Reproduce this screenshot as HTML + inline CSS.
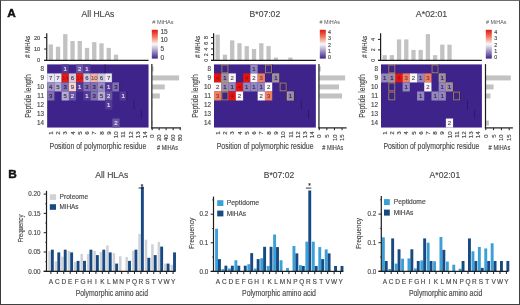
<!DOCTYPE html>
<html><head><meta charset="utf-8"><style>
html,body{margin:0;padding:0;background:#fff;}
body{width:520px;height:305px;overflow:hidden;position:relative;}
svg{position:absolute;left:0;top:0;display:block;will-change:transform;}
text{font-family:"Liberation Sans", sans-serif;}
.frame{position:absolute;left:0;top:0;width:520px;height:305px;box-sizing:border-box;border-left:1px solid #3a3a3a;border-top:1px solid #6a6a6a;border-right:1.5px solid #404040;border-bottom:1.5px solid #404040;pointer-events:none;}
</style></head><body>
<svg width="520" height="305" viewBox="0 0 520 305" font-family='"Liberation Sans", sans-serif' fill="#333">
<rect x="47.15" y="64.4" width="101.4" height="63.14" fill="rgb(62,36,138)" />
<rect x="61.64" y="64.4" width="7.26" height="9.04" fill="rgb(82,58,150)" />
<rect x="76.12" y="64.4" width="7.26" height="9.04" fill="rgb(105,84,163)" />
<rect x="83.37" y="64.4" width="7.26" height="9.04" fill="rgb(82,58,150)" />
<rect x="47.15" y="73.42" width="7.26" height="9.04" fill="rgb(236,232,242)" />
<rect x="54.39" y="73.42" width="7.26" height="9.04" fill="rgb(236,232,242)" />
<rect x="61.64" y="73.42" width="7.26" height="9.04" fill="rgb(229,27,23)" />
<rect x="68.88" y="73.42" width="7.26" height="9.04" fill="rgb(208,201,225)" />
<rect x="76.12" y="73.42" width="7.26" height="9.04" fill="rgb(229,27,23)" />
<rect x="83.37" y="73.42" width="7.26" height="9.04" fill="rgb(208,201,225)" />
<rect x="90.61" y="73.42" width="7.26" height="9.04" fill="rgb(244,176,160)" />
<rect x="97.85" y="73.42" width="7.26" height="9.04" fill="rgb(208,201,225)" />
<rect x="105.09" y="73.42" width="7.26" height="9.04" fill="rgb(236,232,242)" />
<rect x="47.15" y="82.44" width="7.26" height="9.04" fill="rgb(155,141,193)" />
<rect x="54.39" y="82.44" width="7.26" height="9.04" fill="rgb(181,171,209)" />
<rect x="61.64" y="82.44" width="7.26" height="9.04" fill="rgb(129,112,178)" />
<rect x="68.88" y="82.44" width="7.26" height="9.04" fill="rgb(247,211,204)" />
<rect x="76.12" y="82.44" width="7.26" height="9.04" fill="rgb(82,58,150)" />
<rect x="83.37" y="82.44" width="7.26" height="9.04" fill="rgb(129,112,178)" />
<rect x="90.61" y="82.44" width="7.26" height="9.04" fill="rgb(129,112,178)" />
<rect x="97.85" y="82.44" width="7.26" height="9.04" fill="rgb(155,141,193)" />
<rect x="105.09" y="82.44" width="7.26" height="9.04" fill="rgb(82,58,150)" />
<rect x="112.34" y="82.44" width="7.26" height="9.04" fill="rgb(129,112,178)" />
<rect x="47.15" y="91.46" width="7.26" height="9.04" fill="rgb(129,112,178)" />
<rect x="61.64" y="91.46" width="7.26" height="9.04" fill="rgb(181,171,209)" />
<rect x="68.88" y="91.46" width="7.26" height="9.04" fill="rgb(105,84,163)" />
<rect x="83.37" y="91.46" width="7.26" height="9.04" fill="rgb(82,58,150)" />
<rect x="90.61" y="91.46" width="7.26" height="9.04" fill="rgb(129,112,178)" />
<rect x="97.85" y="91.46" width="7.26" height="9.04" fill="rgb(181,171,209)" />
<rect x="105.09" y="91.46" width="7.26" height="9.04" fill="rgb(105,84,163)" />
<rect x="119.58" y="91.46" width="7.26" height="9.04" fill="rgb(82,58,150)" />
<rect x="105.09" y="100.48" width="7.26" height="9.04" fill="rgb(82,58,150)" />
<rect x="112.34" y="118.52" width="7.26" height="9.04" fill="rgb(105,84,163)" />
<line x1="105.09" y1="64.4" x2="105.09" y2="73.42" stroke="#281466" stroke-width="0.8" />
<line x1="112.34" y1="73.42" x2="112.34" y2="82.44" stroke="#281466" stroke-width="0.8" />
<line x1="119.58" y1="82.44" x2="119.58" y2="91.46" stroke="#281466" stroke-width="0.8" />
<line x1="126.82" y1="91.46" x2="126.82" y2="100.48" stroke="#281466" stroke-width="0.8" />
<line x1="134.07" y1="100.48" x2="134.07" y2="109.5" stroke="#281466" stroke-width="0.8" />
<line x1="141.31" y1="109.5" x2="141.31" y2="118.52" stroke="#281466" stroke-width="0.8" />
<text x="65.26" y="71" font-size="6" text-anchor="middle" fill="#ece8f6" stroke="#ece8f6" stroke-width="0.15" >1</text>
<text x="79.74" y="71" font-size="6" text-anchor="middle" fill="#ece8f6" stroke="#ece8f6" stroke-width="0.15" >2</text>
<text x="86.99" y="71" font-size="6" text-anchor="middle" fill="#ece8f6" stroke="#ece8f6" stroke-width="0.15" >1</text>
<text x="50.77" y="80.02" font-size="6" text-anchor="middle" fill="rgb(77,76,79)" stroke="rgb(77,76,79)" stroke-width="0.15" >7</text>
<text x="58.01" y="80.02" font-size="6" text-anchor="middle" fill="rgb(77,76,79)" stroke="rgb(77,76,79)" stroke-width="0.15" >7</text>
<text x="65.26" y="80.02" font-size="6" text-anchor="middle" fill="rgb(178,21,17)" stroke="rgb(178,21,17)" stroke-width="0.15" >14</text>
<text x="72.5" y="80.02" font-size="6" text-anchor="middle" fill="rgb(68,66,74)" stroke="rgb(68,66,74)" stroke-width="0.15" >6</text>
<text x="79.74" y="80.02" font-size="6" text-anchor="middle" fill="rgb(178,21,17)" stroke="rgb(178,21,17)" stroke-width="0.15" >14</text>
<text x="86.99" y="80.02" font-size="6" text-anchor="middle" fill="rgb(68,66,74)" stroke="rgb(68,66,74)" stroke-width="0.15" >6</text>
<text x="94.23" y="80.02" font-size="6" text-anchor="middle" fill="rgb(122,88,80)" stroke="rgb(122,88,80)" stroke-width="0.15" >10</text>
<text x="101.47" y="80.02" font-size="6" text-anchor="middle" fill="rgb(68,66,74)" stroke="rgb(68,66,74)" stroke-width="0.15" >6</text>
<text x="108.72" y="80.02" font-size="6" text-anchor="middle" fill="rgb(77,76,79)" stroke="rgb(77,76,79)" stroke-width="0.15" >7</text>
<text x="50.77" y="89.04" font-size="6" text-anchor="middle" fill="rgb(51,46,63)" stroke="rgb(51,46,63)" stroke-width="0.15" >4</text>
<text x="58.01" y="89.04" font-size="6" text-anchor="middle" fill="rgb(59,56,68)" stroke="rgb(59,56,68)" stroke-width="0.15" >5</text>
<text x="65.26" y="89.04" font-size="6" text-anchor="middle" fill="rgb(42,36,58)" stroke="rgb(42,36,58)" stroke-width="0.15" >3</text>
<text x="72.5" y="89.04" font-size="6" text-anchor="middle" fill="rgb(81,69,67)" stroke="rgb(81,69,67)" stroke-width="0.15" >9</text>
<text x="79.74" y="89.04" font-size="6" text-anchor="middle" fill="#ece8f6" stroke="#ece8f6" stroke-width="0.15" >1</text>
<text x="86.99" y="89.04" font-size="6" text-anchor="middle" fill="rgb(42,36,58)" stroke="rgb(42,36,58)" stroke-width="0.15" >3</text>
<text x="94.23" y="89.04" font-size="6" text-anchor="middle" fill="rgb(42,36,58)" stroke="rgb(42,36,58)" stroke-width="0.15" >3</text>
<text x="101.47" y="89.04" font-size="6" text-anchor="middle" fill="rgb(51,46,63)" stroke="rgb(51,46,63)" stroke-width="0.15" >4</text>
<text x="108.72" y="89.04" font-size="6" text-anchor="middle" fill="#ece8f6" stroke="#ece8f6" stroke-width="0.15" >1</text>
<text x="115.96" y="89.04" font-size="6" text-anchor="middle" fill="rgb(42,36,58)" stroke="rgb(42,36,58)" stroke-width="0.15" >3</text>
<text x="50.77" y="98.06" font-size="6" text-anchor="middle" fill="rgb(42,36,58)" stroke="rgb(42,36,58)" stroke-width="0.15" >3</text>
<text x="65.26" y="98.06" font-size="6" text-anchor="middle" fill="rgb(59,56,68)" stroke="rgb(59,56,68)" stroke-width="0.15" >5</text>
<text x="72.5" y="98.06" font-size="6" text-anchor="middle" fill="#ece8f6" stroke="#ece8f6" stroke-width="0.15" >2</text>
<text x="86.99" y="98.06" font-size="6" text-anchor="middle" fill="#ece8f6" stroke="#ece8f6" stroke-width="0.15" >1</text>
<text x="94.23" y="98.06" font-size="6" text-anchor="middle" fill="rgb(42,36,58)" stroke="rgb(42,36,58)" stroke-width="0.15" >3</text>
<text x="101.47" y="98.06" font-size="6" text-anchor="middle" fill="rgb(59,56,68)" stroke="rgb(59,56,68)" stroke-width="0.15" >5</text>
<text x="108.72" y="98.06" font-size="6" text-anchor="middle" fill="#ece8f6" stroke="#ece8f6" stroke-width="0.15" >2</text>
<text x="123.2" y="98.06" font-size="6" text-anchor="middle" fill="#ece8f6" stroke="#ece8f6" stroke-width="0.15" >1</text>
<text x="108.72" y="107.08" font-size="6" text-anchor="middle" fill="#ece8f6" stroke="#ece8f6" stroke-width="0.15" >1</text>
<text x="115.96" y="125.12" font-size="6" text-anchor="middle" fill="#ece8f6" stroke="#ece8f6" stroke-width="0.15" >2</text>
<text x="43.9" y="70.8" font-size="6.3" text-anchor="end" fill="#484848" stroke="#484848" stroke-width="0.15" >8</text>
<text x="43.9" y="79.82" font-size="6.3" text-anchor="end" fill="#484848" stroke="#484848" stroke-width="0.15" >9</text>
<text x="43.9" y="88.84" font-size="6.3" text-anchor="end" fill="#484848" stroke="#484848" stroke-width="0.15" >10</text>
<text x="43.9" y="97.86" font-size="6.3" text-anchor="end" fill="#484848" stroke="#484848" stroke-width="0.15" >11</text>
<text x="43.9" y="106.88" font-size="6.3" text-anchor="end" fill="#484848" stroke="#484848" stroke-width="0.15" >12</text>
<text x="43.9" y="115.9" font-size="6.3" text-anchor="end" fill="#484848" stroke="#484848" stroke-width="0.15" >13</text>
<text x="43.9" y="124.92" font-size="6.3" text-anchor="end" fill="#484848" stroke="#484848" stroke-width="0.15" >14</text>
<text x="52.97" y="131.4" font-size="6.2" text-anchor="end" fill="#484848" stroke="#484848" stroke-width="0.15" transform="rotate(-90 52.97 131.4)" >1</text>
<text x="60.21" y="131.4" font-size="6.2" text-anchor="end" fill="#484848" stroke="#484848" stroke-width="0.15" transform="rotate(-90 60.21 131.4)" >2</text>
<text x="67.46" y="131.4" font-size="6.2" text-anchor="end" fill="#484848" stroke="#484848" stroke-width="0.15" transform="rotate(-90 67.46 131.4)" >3</text>
<text x="74.7" y="131.4" font-size="6.2" text-anchor="end" fill="#484848" stroke="#484848" stroke-width="0.15" transform="rotate(-90 74.7 131.4)" >4</text>
<text x="81.94" y="131.4" font-size="6.2" text-anchor="end" fill="#484848" stroke="#484848" stroke-width="0.15" transform="rotate(-90 81.94 131.4)" >5</text>
<text x="89.19" y="131.4" font-size="6.2" text-anchor="end" fill="#484848" stroke="#484848" stroke-width="0.15" transform="rotate(-90 89.19 131.4)" >6</text>
<text x="96.43" y="131.4" font-size="6.2" text-anchor="end" fill="#484848" stroke="#484848" stroke-width="0.15" transform="rotate(-90 96.43 131.4)" >7</text>
<text x="103.67" y="131.4" font-size="6.2" text-anchor="end" fill="#484848" stroke="#484848" stroke-width="0.15" transform="rotate(-90 103.67 131.4)" >8</text>
<text x="110.92" y="131.4" font-size="6.2" text-anchor="end" fill="#484848" stroke="#484848" stroke-width="0.15" transform="rotate(-90 110.92 131.4)" >9</text>
<text x="118.16" y="131.4" font-size="6.2" text-anchor="end" fill="#484848" stroke="#484848" stroke-width="0.15" transform="rotate(-90 118.16 131.4)" >10</text>
<text x="125.4" y="131.4" font-size="6.2" text-anchor="end" fill="#484848" stroke="#484848" stroke-width="0.15" transform="rotate(-90 125.4 131.4)" >11</text>
<text x="132.64" y="131.4" font-size="6.2" text-anchor="end" fill="#484848" stroke="#484848" stroke-width="0.15" transform="rotate(-90 132.64 131.4)" >12</text>
<text x="139.89" y="131.4" font-size="6.2" text-anchor="end" fill="#484848" stroke="#484848" stroke-width="0.15" transform="rotate(-90 139.89 131.4)" >13</text>
<text x="147.13" y="131.4" font-size="6.2" text-anchor="end" fill="#484848" stroke="#484848" stroke-width="0.15" transform="rotate(-90 147.13 131.4)" >14</text>
<text x="31.1" y="96" font-size="8.3" text-anchor="middle" fill="#484848" stroke="#484848" stroke-width="0.15" textLength="43.4" lengthAdjust="spacingAndGlyphs" transform="rotate(-90 31.1 96)" >Peptide length</text>
<text x="49.5" y="149" font-size="9.2" fill="#484848" stroke="#484848" stroke-width="0.15" textLength="96.8" lengthAdjust="spacingAndGlyphs" >Position of polymorphic residue</text>
<rect x="48.65" y="44.44" width="4.3" height="15.96" fill="#c2c2c2" />
<rect x="55.89" y="46.72" width="4.3" height="13.68" fill="#c2c2c2" />
<rect x="63.14" y="34.18" width="4.3" height="26.22" fill="#c2c2c2" />
<rect x="70.38" y="41.02" width="4.3" height="19.38" fill="#c2c2c2" />
<rect x="77.62" y="41.02" width="4.3" height="19.38" fill="#c2c2c2" />
<rect x="84.87" y="47.86" width="4.3" height="12.54" fill="#c2c2c2" />
<rect x="92.11" y="42.16" width="4.3" height="18.24" fill="#c2c2c2" />
<rect x="99.35" y="43.3" width="4.3" height="17.1" fill="#c2c2c2" />
<rect x="106.59" y="47.86" width="4.3" height="12.54" fill="#c2c2c2" />
<rect x="113.84" y="54.7" width="4.3" height="5.7" fill="#c2c2c2" />
<line x1="46.75" y1="33.2" x2="46.75" y2="61" stroke="#1e1e1e" stroke-width="1.2" />
<line x1="44.15" y1="60.4" x2="148.55" y2="60.4" stroke="#1e1e1e" stroke-width="1.2" />
<line x1="44.15" y1="60.4" x2="46.85" y2="60.4" stroke="#1e1e1e" stroke-width="1.0" />
<text x="40.25" y="62.4" font-size="5.7" text-anchor="end" fill="#484848" stroke="#484848" stroke-width="0.15" >0</text>
<line x1="44.15" y1="49" x2="46.85" y2="49" stroke="#1e1e1e" stroke-width="1.0" />
<text x="40.25" y="51" font-size="5.7" text-anchor="end" fill="#484848" stroke="#484848" stroke-width="0.15" >10</text>
<line x1="44.15" y1="37.6" x2="46.85" y2="37.6" stroke="#1e1e1e" stroke-width="1.0" />
<text x="40.25" y="39.6" font-size="5.7" text-anchor="end" fill="#484848" stroke="#484848" stroke-width="0.15" >20</text>
<text x="30.5" y="46.8" font-size="6.5" text-anchor="middle" fill="#484848" stroke="#484848" stroke-width="0.15" textLength="22" lengthAdjust="spacingAndGlyphs" transform="rotate(-90 30.5 46.8)" ># MiHAs</text>
<rect x="152.15" y="66.41" width="1.4" height="5" fill="#c2c2c2" />
<rect x="152.15" y="75.43" width="26.95" height="5" fill="#c2c2c2" />
<rect x="152.15" y="84.45" width="12.6" height="5" fill="#c2c2c2" />
<rect x="152.15" y="93.47" width="7.7" height="5" fill="#c2c2c2" />
<rect x="152.15" y="102.49" width="0.35" height="5" fill="#c2c2c2" />
<rect x="152.15" y="120.53" width="0.7" height="5" fill="#c2c2c2" />
<line x1="151.85" y1="64.1" x2="151.85" y2="128.4" stroke="#1e1e1e" stroke-width="1.2" />
<line x1="151.25" y1="127.9" x2="181" y2="127.9" stroke="#1e1e1e" stroke-width="1.2" />
<line x1="152.15" y1="127.9" x2="152.15" y2="130.2" stroke="#1e1e1e" stroke-width="1.0" />
<text x="154.25" y="134.3" font-size="6" text-anchor="end" fill="#484848" stroke="#484848" stroke-width="0.15" transform="rotate(-90 154.25 134.3)" >0</text>
<line x1="159.15" y1="127.9" x2="159.15" y2="130.2" stroke="#1e1e1e" stroke-width="1.0" />
<text x="161.25" y="134.3" font-size="6" text-anchor="end" fill="#484848" stroke="#484848" stroke-width="0.15" transform="rotate(-90 161.25 134.3)" >20</text>
<line x1="166.15" y1="127.9" x2="166.15" y2="130.2" stroke="#1e1e1e" stroke-width="1.0" />
<text x="168.25" y="134.3" font-size="6" text-anchor="end" fill="#484848" stroke="#484848" stroke-width="0.15" transform="rotate(-90 168.25 134.3)" >40</text>
<line x1="173.15" y1="127.9" x2="173.15" y2="130.2" stroke="#1e1e1e" stroke-width="1.0" />
<text x="175.25" y="134.3" font-size="6" text-anchor="end" fill="#484848" stroke="#484848" stroke-width="0.15" transform="rotate(-90 175.25 134.3)" >60</text>
<line x1="180.15" y1="127.9" x2="180.15" y2="130.2" stroke="#1e1e1e" stroke-width="1.0" />
<text x="182.25" y="134.3" font-size="6" text-anchor="end" fill="#484848" stroke="#484848" stroke-width="0.15" transform="rotate(-90 182.25 134.3)" >80</text>
<text x="157" y="149.5" font-size="7.6" fill="#484848" stroke="#484848" stroke-width="0.15" textLength="21" lengthAdjust="spacingAndGlyphs" ># MiHAs</text>
<text x="81.5" y="16.8" font-size="8.8" fill="#484848" stroke="#484848" stroke-width="0.15" textLength="32.9" lengthAdjust="spacingAndGlyphs" >All HLAs</text>
<text x="152.3" y="23.8" font-size="4.9" fill="#555" textLength="21.2" lengthAdjust="spacingAndGlyphs" ># MiHAs</text>
<defs><linearGradient id="g47" x1="0" y1="1" x2="0" y2="0"><stop offset="0" stop-color="rgb(62,36,138)"/><stop offset="0.5" stop-color="rgb(250,248,250)"/><stop offset="0.75" stop-color="rgb(240,126,98)"/><stop offset="1" stop-color="rgb(228,18,16)"/></linearGradient></defs>
<rect x="151.8" y="29.8" width="6" height="28.8" fill="url(#g47)" />
<text x="160.5" y="33.6" font-size="6.5" fill="#484848" stroke="#484848" stroke-width="0.15" >15</text>
<text x="160.5" y="42.2" font-size="6.5" fill="#484848" stroke="#484848" stroke-width="0.15" >10</text>
<text x="160.5" y="50.9" font-size="6.5" fill="#484848" stroke="#484848" stroke-width="0.15" >5</text>
<text x="160.5" y="59.5" font-size="6.5" fill="#484848" stroke="#484848" stroke-width="0.15" >0</text>
<rect x="214" y="64.4" width="101.85" height="63.14" fill="rgb(62,36,138)" />
<rect x="250.38" y="64.4" width="7.29" height="9.04" fill="rgb(148,134,190)" />
<rect x="214" y="73.42" width="7.29" height="9.04" fill="rgb(228,18,16)" />
<rect x="221.28" y="73.42" width="7.29" height="9.04" fill="rgb(148,134,190)" />
<rect x="228.55" y="73.42" width="7.29" height="9.04" fill="rgb(250,248,250)" />
<rect x="243.1" y="73.42" width="7.29" height="9.04" fill="rgb(228,18,16)" />
<rect x="250.38" y="73.42" width="7.29" height="9.04" fill="rgb(250,248,250)" />
<rect x="257.65" y="73.42" width="7.29" height="9.04" fill="rgb(240,126,98)" />
<rect x="272.2" y="73.42" width="7.29" height="9.04" fill="rgb(148,134,190)" />
<rect x="214" y="82.44" width="7.29" height="9.04" fill="rgb(250,248,250)" />
<rect x="221.28" y="82.44" width="7.29" height="9.04" fill="rgb(148,134,190)" />
<rect x="228.55" y="82.44" width="7.29" height="9.04" fill="rgb(148,134,190)" />
<rect x="235.82" y="82.44" width="7.29" height="9.04" fill="rgb(228,18,16)" />
<rect x="243.1" y="82.44" width="7.29" height="9.04" fill="rgb(148,134,190)" />
<rect x="250.38" y="82.44" width="7.29" height="9.04" fill="rgb(148,134,190)" />
<rect x="257.65" y="82.44" width="7.29" height="9.04" fill="rgb(148,134,190)" />
<rect x="264.93" y="82.44" width="7.29" height="9.04" fill="rgb(250,248,250)" />
<rect x="214" y="91.46" width="7.29" height="9.04" fill="rgb(240,126,98)" />
<rect x="228.55" y="91.46" width="7.29" height="9.04" fill="rgb(228,18,16)" />
<rect x="235.82" y="91.46" width="7.29" height="9.04" fill="rgb(250,248,250)" />
<rect x="257.65" y="91.46" width="7.29" height="9.04" fill="rgb(250,248,250)" />
<rect x="264.93" y="91.46" width="7.29" height="9.04" fill="rgb(240,126,98)" />
<rect x="286.75" y="91.46" width="7.29" height="9.04" fill="rgb(148,134,190)" />
<line x1="272.2" y1="64.4" x2="272.2" y2="73.42" stroke="#281466" stroke-width="0.8" />
<line x1="279.48" y1="73.42" x2="279.48" y2="82.44" stroke="#281466" stroke-width="0.8" />
<line x1="286.75" y1="82.44" x2="286.75" y2="91.46" stroke="#281466" stroke-width="0.8" />
<line x1="294.02" y1="91.46" x2="294.02" y2="100.48" stroke="#281466" stroke-width="0.8" />
<line x1="301.3" y1="100.48" x2="301.3" y2="109.5" stroke="#281466" stroke-width="0.8" />
<line x1="308.57" y1="109.5" x2="308.57" y2="118.52" stroke="#281466" stroke-width="0.8" />
<rect x="221.88" y="65" width="6.08" height="7.82" fill="none" stroke="#c8ab40" stroke-width="0.7" stroke-opacity="0.9"/>
<rect x="221.88" y="74.02" width="6.08" height="7.82" fill="none" stroke="#c8ab40" stroke-width="0.7" stroke-opacity="0.9"/>
<rect x="221.88" y="83.04" width="6.08" height="7.82" fill="none" stroke="#c8ab40" stroke-width="0.7" stroke-opacity="0.9"/>
<rect x="221.88" y="92.06" width="6.08" height="7.82" fill="none" stroke="#c8ab40" stroke-width="0.7" stroke-opacity="0.9"/>
<rect x="265.53" y="65" width="6.08" height="7.82" fill="none" stroke="#c8ab40" stroke-width="0.7" stroke-opacity="0.9"/>
<rect x="272.8" y="74.02" width="6.08" height="7.82" fill="none" stroke="#c8ab40" stroke-width="0.7" stroke-opacity="0.9"/>
<rect x="280.08" y="83.04" width="6.08" height="7.82" fill="none" stroke="#c8ab40" stroke-width="0.7" stroke-opacity="0.9"/>
<rect x="287.35" y="92.06" width="6.08" height="7.82" fill="none" stroke="#c8ab40" stroke-width="0.7" stroke-opacity="0.9"/>
<text x="254.01" y="71" font-size="6" text-anchor="middle" fill="rgb(48,44,62)" stroke="rgb(48,44,62)" stroke-width="0.15" >1</text>
<text x="217.64" y="80.02" font-size="6" text-anchor="middle" fill="rgb(177,14,12)" stroke="rgb(177,14,12)" stroke-width="0.15" >4</text>
<text x="224.91" y="80.02" font-size="6" text-anchor="middle" fill="rgb(48,44,62)" stroke="rgb(48,44,62)" stroke-width="0.15" >1</text>
<text x="232.19" y="80.02" font-size="6" text-anchor="middle" fill="rgb(82,81,82)" stroke="rgb(82,81,82)" stroke-width="0.15" >2</text>
<text x="246.74" y="80.02" font-size="6" text-anchor="middle" fill="rgb(177,14,12)" stroke="rgb(177,14,12)" stroke-width="0.15" >4</text>
<text x="254.01" y="80.02" font-size="6" text-anchor="middle" fill="rgb(82,81,82)" stroke="rgb(82,81,82)" stroke-width="0.15" >2</text>
<text x="261.29" y="80.02" font-size="6" text-anchor="middle" fill="rgb(120,63,49)" stroke="rgb(120,63,49)" stroke-width="0.15" >3</text>
<text x="275.84" y="80.02" font-size="6" text-anchor="middle" fill="rgb(48,44,62)" stroke="rgb(48,44,62)" stroke-width="0.15" >1</text>
<text x="217.64" y="89.04" font-size="6" text-anchor="middle" fill="rgb(82,81,82)" stroke="rgb(82,81,82)" stroke-width="0.15" >2</text>
<text x="224.91" y="89.04" font-size="6" text-anchor="middle" fill="rgb(48,44,62)" stroke="rgb(48,44,62)" stroke-width="0.15" >1</text>
<text x="232.19" y="89.04" font-size="6" text-anchor="middle" fill="rgb(48,44,62)" stroke="rgb(48,44,62)" stroke-width="0.15" >1</text>
<text x="239.46" y="89.04" font-size="6" text-anchor="middle" fill="rgb(177,14,12)" stroke="rgb(177,14,12)" stroke-width="0.15" >4</text>
<text x="246.74" y="89.04" font-size="6" text-anchor="middle" fill="rgb(48,44,62)" stroke="rgb(48,44,62)" stroke-width="0.15" >1</text>
<text x="254.01" y="89.04" font-size="6" text-anchor="middle" fill="rgb(48,44,62)" stroke="rgb(48,44,62)" stroke-width="0.15" >1</text>
<text x="261.29" y="89.04" font-size="6" text-anchor="middle" fill="rgb(48,44,62)" stroke="rgb(48,44,62)" stroke-width="0.15" >1</text>
<text x="268.56" y="89.04" font-size="6" text-anchor="middle" fill="rgb(82,81,82)" stroke="rgb(82,81,82)" stroke-width="0.15" >2</text>
<text x="217.64" y="98.06" font-size="6" text-anchor="middle" fill="rgb(120,63,49)" stroke="rgb(120,63,49)" stroke-width="0.15" >3</text>
<text x="232.19" y="98.06" font-size="6" text-anchor="middle" fill="rgb(177,14,12)" stroke="rgb(177,14,12)" stroke-width="0.15" >4</text>
<text x="239.46" y="98.06" font-size="6" text-anchor="middle" fill="rgb(82,81,82)" stroke="rgb(82,81,82)" stroke-width="0.15" >2</text>
<text x="261.29" y="98.06" font-size="6" text-anchor="middle" fill="rgb(82,81,82)" stroke="rgb(82,81,82)" stroke-width="0.15" >2</text>
<text x="268.56" y="98.06" font-size="6" text-anchor="middle" fill="rgb(120,63,49)" stroke="rgb(120,63,49)" stroke-width="0.15" >3</text>
<text x="290.39" y="98.06" font-size="6" text-anchor="middle" fill="rgb(48,44,62)" stroke="rgb(48,44,62)" stroke-width="0.15" >1</text>
<text x="210.9" y="70.8" font-size="6.3" text-anchor="end" fill="#484848" stroke="#484848" stroke-width="0.15" >8</text>
<text x="210.9" y="79.82" font-size="6.3" text-anchor="end" fill="#484848" stroke="#484848" stroke-width="0.15" >9</text>
<text x="210.9" y="88.84" font-size="6.3" text-anchor="end" fill="#484848" stroke="#484848" stroke-width="0.15" >10</text>
<text x="210.9" y="97.86" font-size="6.3" text-anchor="end" fill="#484848" stroke="#484848" stroke-width="0.15" >11</text>
<text x="210.9" y="106.88" font-size="6.3" text-anchor="end" fill="#484848" stroke="#484848" stroke-width="0.15" >12</text>
<text x="210.9" y="115.9" font-size="6.3" text-anchor="end" fill="#484848" stroke="#484848" stroke-width="0.15" >13</text>
<text x="210.9" y="124.92" font-size="6.3" text-anchor="end" fill="#484848" stroke="#484848" stroke-width="0.15" >14</text>
<text x="219.84" y="131.4" font-size="6.2" text-anchor="end" fill="#484848" stroke="#484848" stroke-width="0.15" transform="rotate(-90 219.84 131.4)" >1</text>
<text x="227.11" y="131.4" font-size="6.2" text-anchor="end" fill="#484848" stroke="#484848" stroke-width="0.15" transform="rotate(-90 227.11 131.4)" >2</text>
<text x="234.39" y="131.4" font-size="6.2" text-anchor="end" fill="#484848" stroke="#484848" stroke-width="0.15" transform="rotate(-90 234.39 131.4)" >3</text>
<text x="241.66" y="131.4" font-size="6.2" text-anchor="end" fill="#484848" stroke="#484848" stroke-width="0.15" transform="rotate(-90 241.66 131.4)" >4</text>
<text x="248.94" y="131.4" font-size="6.2" text-anchor="end" fill="#484848" stroke="#484848" stroke-width="0.15" transform="rotate(-90 248.94 131.4)" >5</text>
<text x="256.21" y="131.4" font-size="6.2" text-anchor="end" fill="#484848" stroke="#484848" stroke-width="0.15" transform="rotate(-90 256.21 131.4)" >6</text>
<text x="263.49" y="131.4" font-size="6.2" text-anchor="end" fill="#484848" stroke="#484848" stroke-width="0.15" transform="rotate(-90 263.49 131.4)" >7</text>
<text x="270.76" y="131.4" font-size="6.2" text-anchor="end" fill="#484848" stroke="#484848" stroke-width="0.15" transform="rotate(-90 270.76 131.4)" >8</text>
<text x="278.04" y="131.4" font-size="6.2" text-anchor="end" fill="#484848" stroke="#484848" stroke-width="0.15" transform="rotate(-90 278.04 131.4)" >9</text>
<text x="285.31" y="131.4" font-size="6.2" text-anchor="end" fill="#484848" stroke="#484848" stroke-width="0.15" transform="rotate(-90 285.31 131.4)" >10</text>
<text x="292.59" y="131.4" font-size="6.2" text-anchor="end" fill="#484848" stroke="#484848" stroke-width="0.15" transform="rotate(-90 292.59 131.4)" >11</text>
<text x="299.86" y="131.4" font-size="6.2" text-anchor="end" fill="#484848" stroke="#484848" stroke-width="0.15" transform="rotate(-90 299.86 131.4)" >12</text>
<text x="307.14" y="131.4" font-size="6.2" text-anchor="end" fill="#484848" stroke="#484848" stroke-width="0.15" transform="rotate(-90 307.14 131.4)" >13</text>
<text x="314.41" y="131.4" font-size="6.2" text-anchor="end" fill="#484848" stroke="#484848" stroke-width="0.15" transform="rotate(-90 314.41 131.4)" >14</text>
<text x="198.2" y="96" font-size="8.3" text-anchor="middle" fill="#484848" stroke="#484848" stroke-width="0.15" textLength="43.4" lengthAdjust="spacingAndGlyphs" transform="rotate(-90 198.2 96)" >Peptide length</text>
<text x="216.7" y="149" font-size="9.2" fill="#484848" stroke="#484848" stroke-width="0.15" textLength="96.9" lengthAdjust="spacingAndGlyphs" >Position of polymorphic residue</text>
<rect x="215.5" y="34.66" width="4.3" height="25.74" fill="#c2c2c2" />
<rect x="222.78" y="54.68" width="4.3" height="5.72" fill="#c2c2c2" />
<rect x="230.05" y="40.38" width="4.3" height="20.02" fill="#c2c2c2" />
<rect x="237.32" y="43.24" width="4.3" height="17.16" fill="#c2c2c2" />
<rect x="244.6" y="46.1" width="4.3" height="14.3" fill="#c2c2c2" />
<rect x="251.88" y="48.96" width="4.3" height="11.44" fill="#c2c2c2" />
<rect x="259.15" y="43.24" width="4.3" height="17.16" fill="#c2c2c2" />
<rect x="266.43" y="46.1" width="4.3" height="14.3" fill="#c2c2c2" />
<rect x="273.7" y="57.54" width="4.3" height="2.86" fill="#c2c2c2" />
<rect x="288.25" y="57.54" width="4.3" height="2.86" fill="#c2c2c2" />
<line x1="213.6" y1="33.2" x2="213.6" y2="61" stroke="#1e1e1e" stroke-width="1.2" />
<line x1="211" y1="60.4" x2="315.85" y2="60.4" stroke="#1e1e1e" stroke-width="1.2" />
<line x1="211" y1="60.4" x2="213.7" y2="60.4" stroke="#1e1e1e" stroke-width="1.0" />
<text x="208.1" y="60.4" font-size="5.2" text-anchor="middle" fill="#484848" stroke="#484848" stroke-width="0.15" transform="rotate(-90 208.1 60.4)" >0</text>
<line x1="211" y1="54.68" x2="213.7" y2="54.68" stroke="#1e1e1e" stroke-width="1.0" />
<text x="208.1" y="54.68" font-size="5.2" text-anchor="middle" fill="#484848" stroke="#484848" stroke-width="0.15" transform="rotate(-90 208.1 54.68)" >2</text>
<line x1="211" y1="48.96" x2="213.7" y2="48.96" stroke="#1e1e1e" stroke-width="1.0" />
<text x="208.1" y="48.96" font-size="5.2" text-anchor="middle" fill="#484848" stroke="#484848" stroke-width="0.15" transform="rotate(-90 208.1 48.96)" >4</text>
<line x1="211" y1="43.24" x2="213.7" y2="43.24" stroke="#1e1e1e" stroke-width="1.0" />
<text x="208.1" y="43.24" font-size="5.2" text-anchor="middle" fill="#484848" stroke="#484848" stroke-width="0.15" transform="rotate(-90 208.1 43.24)" >6</text>
<line x1="211" y1="37.52" x2="213.7" y2="37.52" stroke="#1e1e1e" stroke-width="1.0" />
<text x="208.1" y="37.52" font-size="5.2" text-anchor="middle" fill="#484848" stroke="#484848" stroke-width="0.15" transform="rotate(-90 208.1 37.52)" >8</text>
<text x="200.5" y="46.8" font-size="6.5" text-anchor="middle" fill="#484848" stroke="#484848" stroke-width="0.15" textLength="22" lengthAdjust="spacingAndGlyphs" transform="rotate(-90 200.5 46.8)" ># MiHAs</text>
<rect x="319.25" y="66.41" width="1.52" height="5" fill="#c2c2c2" />
<rect x="319.25" y="75.43" width="25.84" height="5" fill="#c2c2c2" />
<rect x="319.25" y="84.45" width="19.76" height="5" fill="#c2c2c2" />
<rect x="319.25" y="93.47" width="22.8" height="5" fill="#c2c2c2" />
<line x1="318.95" y1="64.1" x2="318.95" y2="128.4" stroke="#1e1e1e" stroke-width="1.2" />
<line x1="318.35" y1="127.9" x2="346.6" y2="127.9" stroke="#1e1e1e" stroke-width="1.2" />
<line x1="319.25" y1="127.9" x2="319.25" y2="130.2" stroke="#1e1e1e" stroke-width="1.0" />
<text x="321.35" y="134.3" font-size="6" text-anchor="end" fill="#484848" stroke="#484848" stroke-width="0.15" transform="rotate(-90 321.35 134.3)" >0</text>
<line x1="326.85" y1="127.9" x2="326.85" y2="130.2" stroke="#1e1e1e" stroke-width="1.0" />
<text x="328.95" y="134.3" font-size="6" text-anchor="end" fill="#484848" stroke="#484848" stroke-width="0.15" transform="rotate(-90 328.95 134.3)" >5</text>
<line x1="334.45" y1="127.9" x2="334.45" y2="130.2" stroke="#1e1e1e" stroke-width="1.0" />
<text x="336.55" y="134.3" font-size="6" text-anchor="end" fill="#484848" stroke="#484848" stroke-width="0.15" transform="rotate(-90 336.55 134.3)" >10</text>
<line x1="342.05" y1="127.9" x2="342.05" y2="130.2" stroke="#1e1e1e" stroke-width="1.0" />
<text x="344.15" y="134.3" font-size="6" text-anchor="end" fill="#484848" stroke="#484848" stroke-width="0.15" transform="rotate(-90 344.15 134.3)" >15</text>
<text x="322.3" y="149.5" font-size="7.6" fill="#484848" stroke="#484848" stroke-width="0.15" textLength="21" lengthAdjust="spacingAndGlyphs" ># MiHAs</text>
<text x="249.6" y="16.8" font-size="8.8" fill="#484848" stroke="#484848" stroke-width="0.15" textLength="30.6" lengthAdjust="spacingAndGlyphs" >B*07:02</text>
<text x="319.5" y="23.8" font-size="4.9" fill="#555" textLength="20.5" lengthAdjust="spacingAndGlyphs" ># MiHAs</text>
<defs><linearGradient id="g214" x1="0" y1="1" x2="0" y2="0"><stop offset="0" stop-color="rgb(62,36,138)"/><stop offset="0.5" stop-color="rgb(250,248,250)"/><stop offset="0.75" stop-color="rgb(240,126,98)"/><stop offset="1" stop-color="rgb(228,18,16)"/></linearGradient></defs>
<rect x="319.8" y="29.8" width="6" height="28.8" fill="url(#g214)" />
<text x="328" y="34.1" font-size="5.3" fill="#484848" stroke="#484848" stroke-width="0.15" >4</text>
<text x="328" y="40.3" font-size="5.3" fill="#484848" stroke="#484848" stroke-width="0.15" >3</text>
<text x="328" y="46.5" font-size="5.3" fill="#484848" stroke="#484848" stroke-width="0.15" >2</text>
<text x="328" y="52.7" font-size="5.3" fill="#484848" stroke="#484848" stroke-width="0.15" >1</text>
<text x="328" y="58.9" font-size="5.3" fill="#484848" stroke="#484848" stroke-width="0.15" >0</text>
<rect x="381" y="64.4" width="100.9" height="63.14" fill="rgb(62,36,138)" />
<rect x="381" y="73.42" width="7.23" height="9.04" fill="rgb(148,134,190)" />
<rect x="388.21" y="73.42" width="7.23" height="9.04" fill="rgb(148,134,190)" />
<rect x="395.41" y="73.42" width="7.23" height="9.04" fill="rgb(228,18,16)" />
<rect x="402.62" y="73.42" width="7.23" height="9.04" fill="rgb(240,126,98)" />
<rect x="409.83" y="73.42" width="7.23" height="9.04" fill="rgb(250,248,250)" />
<rect x="417.03" y="73.42" width="7.23" height="9.04" fill="rgb(148,134,190)" />
<rect x="424.24" y="73.42" width="7.23" height="9.04" fill="rgb(240,126,98)" />
<rect x="438.66" y="73.42" width="7.23" height="9.04" fill="rgb(148,134,190)" />
<rect x="402.62" y="82.44" width="7.23" height="9.04" fill="rgb(148,134,190)" />
<rect x="424.24" y="82.44" width="7.23" height="9.04" fill="rgb(250,248,250)" />
<rect x="438.66" y="82.44" width="7.23" height="9.04" fill="rgb(148,134,190)" />
<rect x="445.86" y="82.44" width="7.23" height="9.04" fill="rgb(148,134,190)" />
<rect x="417.03" y="91.46" width="7.23" height="9.04" fill="rgb(148,134,190)" />
<rect x="431.45" y="91.46" width="7.23" height="9.04" fill="rgb(148,134,190)" />
<rect x="438.66" y="91.46" width="7.23" height="9.04" fill="rgb(148,134,190)" />
<rect x="445.86" y="118.52" width="7.23" height="9.04" fill="rgb(250,248,250)" />
<line x1="438.66" y1="64.4" x2="438.66" y2="73.42" stroke="#281466" stroke-width="0.8" />
<line x1="445.86" y1="73.42" x2="445.86" y2="82.44" stroke="#281466" stroke-width="0.8" />
<line x1="453.07" y1="82.44" x2="453.07" y2="91.46" stroke="#281466" stroke-width="0.8" />
<line x1="460.28" y1="91.46" x2="460.28" y2="100.48" stroke="#281466" stroke-width="0.8" />
<line x1="467.48" y1="100.48" x2="467.48" y2="109.5" stroke="#281466" stroke-width="0.8" />
<line x1="474.69" y1="109.5" x2="474.69" y2="118.52" stroke="#281466" stroke-width="0.8" />
<rect x="388.81" y="65" width="6.01" height="7.82" fill="none" stroke="#c8ab40" stroke-width="0.7" stroke-opacity="0.9"/>
<rect x="388.81" y="74.02" width="6.01" height="7.82" fill="none" stroke="#c8ab40" stroke-width="0.7" stroke-opacity="0.9"/>
<rect x="388.81" y="83.04" width="6.01" height="7.82" fill="none" stroke="#c8ab40" stroke-width="0.7" stroke-opacity="0.9"/>
<rect x="388.81" y="92.06" width="6.01" height="7.82" fill="none" stroke="#c8ab40" stroke-width="0.7" stroke-opacity="0.9"/>
<rect x="432.05" y="65" width="6.01" height="7.82" fill="none" stroke="#c8ab40" stroke-width="0.7" stroke-opacity="0.9"/>
<rect x="439.26" y="74.02" width="6.01" height="7.82" fill="none" stroke="#c8ab40" stroke-width="0.7" stroke-opacity="0.9"/>
<rect x="446.46" y="83.04" width="6.01" height="7.82" fill="none" stroke="#c8ab40" stroke-width="0.7" stroke-opacity="0.9"/>
<rect x="453.67" y="92.06" width="6.01" height="7.82" fill="none" stroke="#c8ab40" stroke-width="0.7" stroke-opacity="0.9"/>
<text x="384.6" y="80.02" font-size="6" text-anchor="middle" fill="rgb(48,44,62)" stroke="rgb(48,44,62)" stroke-width="0.15" >1</text>
<text x="391.81" y="80.02" font-size="6" text-anchor="middle" fill="rgb(48,44,62)" stroke="rgb(48,44,62)" stroke-width="0.15" >1</text>
<text x="399.02" y="80.02" font-size="6" text-anchor="middle" fill="rgb(177,14,12)" stroke="rgb(177,14,12)" stroke-width="0.15" >4</text>
<text x="406.22" y="80.02" font-size="6" text-anchor="middle" fill="rgb(120,63,49)" stroke="rgb(120,63,49)" stroke-width="0.15" >3</text>
<text x="413.43" y="80.02" font-size="6" text-anchor="middle" fill="rgb(82,81,82)" stroke="rgb(82,81,82)" stroke-width="0.15" >2</text>
<text x="420.64" y="80.02" font-size="6" text-anchor="middle" fill="rgb(48,44,62)" stroke="rgb(48,44,62)" stroke-width="0.15" >1</text>
<text x="427.85" y="80.02" font-size="6" text-anchor="middle" fill="rgb(120,63,49)" stroke="rgb(120,63,49)" stroke-width="0.15" >3</text>
<text x="442.26" y="80.02" font-size="6" text-anchor="middle" fill="rgb(48,44,62)" stroke="rgb(48,44,62)" stroke-width="0.15" >1</text>
<text x="406.22" y="89.04" font-size="6" text-anchor="middle" fill="rgb(48,44,62)" stroke="rgb(48,44,62)" stroke-width="0.15" >1</text>
<text x="427.85" y="89.04" font-size="6" text-anchor="middle" fill="rgb(82,81,82)" stroke="rgb(82,81,82)" stroke-width="0.15" >2</text>
<text x="442.26" y="89.04" font-size="6" text-anchor="middle" fill="rgb(48,44,62)" stroke="rgb(48,44,62)" stroke-width="0.15" >1</text>
<text x="449.47" y="89.04" font-size="6" text-anchor="middle" fill="rgb(48,44,62)" stroke="rgb(48,44,62)" stroke-width="0.15" >1</text>
<text x="420.64" y="98.06" font-size="6" text-anchor="middle" fill="rgb(48,44,62)" stroke="rgb(48,44,62)" stroke-width="0.15" >1</text>
<text x="435.05" y="98.06" font-size="6" text-anchor="middle" fill="rgb(48,44,62)" stroke="rgb(48,44,62)" stroke-width="0.15" >1</text>
<text x="442.26" y="98.06" font-size="6" text-anchor="middle" fill="rgb(48,44,62)" stroke="rgb(48,44,62)" stroke-width="0.15" >1</text>
<text x="449.47" y="125.12" font-size="6" text-anchor="middle" fill="rgb(82,81,82)" stroke="rgb(82,81,82)" stroke-width="0.15" >2</text>
<text x="377.9" y="70.8" font-size="6.3" text-anchor="end" fill="#484848" stroke="#484848" stroke-width="0.15" >8</text>
<text x="377.9" y="79.82" font-size="6.3" text-anchor="end" fill="#484848" stroke="#484848" stroke-width="0.15" >9</text>
<text x="377.9" y="88.84" font-size="6.3" text-anchor="end" fill="#484848" stroke="#484848" stroke-width="0.15" >10</text>
<text x="377.9" y="97.86" font-size="6.3" text-anchor="end" fill="#484848" stroke="#484848" stroke-width="0.15" >11</text>
<text x="377.9" y="106.88" font-size="6.3" text-anchor="end" fill="#484848" stroke="#484848" stroke-width="0.15" >12</text>
<text x="377.9" y="115.9" font-size="6.3" text-anchor="end" fill="#484848" stroke="#484848" stroke-width="0.15" >13</text>
<text x="377.9" y="124.92" font-size="6.3" text-anchor="end" fill="#484848" stroke="#484848" stroke-width="0.15" >14</text>
<text x="386.8" y="131.4" font-size="6.2" text-anchor="end" fill="#484848" stroke="#484848" stroke-width="0.15" transform="rotate(-90 386.8 131.4)" >1</text>
<text x="394.01" y="131.4" font-size="6.2" text-anchor="end" fill="#484848" stroke="#484848" stroke-width="0.15" transform="rotate(-90 394.01 131.4)" >2</text>
<text x="401.22" y="131.4" font-size="6.2" text-anchor="end" fill="#484848" stroke="#484848" stroke-width="0.15" transform="rotate(-90 401.22 131.4)" >3</text>
<text x="408.42" y="131.4" font-size="6.2" text-anchor="end" fill="#484848" stroke="#484848" stroke-width="0.15" transform="rotate(-90 408.42 131.4)" >4</text>
<text x="415.63" y="131.4" font-size="6.2" text-anchor="end" fill="#484848" stroke="#484848" stroke-width="0.15" transform="rotate(-90 415.63 131.4)" >5</text>
<text x="422.84" y="131.4" font-size="6.2" text-anchor="end" fill="#484848" stroke="#484848" stroke-width="0.15" transform="rotate(-90 422.84 131.4)" >6</text>
<text x="430.05" y="131.4" font-size="6.2" text-anchor="end" fill="#484848" stroke="#484848" stroke-width="0.15" transform="rotate(-90 430.05 131.4)" >7</text>
<text x="437.25" y="131.4" font-size="6.2" text-anchor="end" fill="#484848" stroke="#484848" stroke-width="0.15" transform="rotate(-90 437.25 131.4)" >8</text>
<text x="444.46" y="131.4" font-size="6.2" text-anchor="end" fill="#484848" stroke="#484848" stroke-width="0.15" transform="rotate(-90 444.46 131.4)" >9</text>
<text x="451.67" y="131.4" font-size="6.2" text-anchor="end" fill="#484848" stroke="#484848" stroke-width="0.15" transform="rotate(-90 451.67 131.4)" >10</text>
<text x="458.87" y="131.4" font-size="6.2" text-anchor="end" fill="#484848" stroke="#484848" stroke-width="0.15" transform="rotate(-90 458.87 131.4)" >11</text>
<text x="466.08" y="131.4" font-size="6.2" text-anchor="end" fill="#484848" stroke="#484848" stroke-width="0.15" transform="rotate(-90 466.08 131.4)" >12</text>
<text x="473.29" y="131.4" font-size="6.2" text-anchor="end" fill="#484848" stroke="#484848" stroke-width="0.15" transform="rotate(-90 473.29 131.4)" >13</text>
<text x="480.49" y="131.4" font-size="6.2" text-anchor="end" fill="#484848" stroke="#484848" stroke-width="0.15" transform="rotate(-90 480.49 131.4)" >14</text>
<text x="365.2" y="96" font-size="8.3" text-anchor="middle" fill="#484848" stroke="#484848" stroke-width="0.15" textLength="43.4" lengthAdjust="spacingAndGlyphs" transform="rotate(-90 365.2 96)" >Peptide length</text>
<text x="383.4" y="149" font-size="9.2" fill="#484848" stroke="#484848" stroke-width="0.15" textLength="96" lengthAdjust="spacingAndGlyphs" >Position of polymorphic residue</text>
<rect x="382.5" y="55.15" width="4.3" height="5.25" fill="#c2c2c2" />
<rect x="389.71" y="55.15" width="4.3" height="5.25" fill="#c2c2c2" />
<rect x="396.91" y="39.4" width="4.3" height="21" fill="#c2c2c2" />
<rect x="404.12" y="39.4" width="4.3" height="21" fill="#c2c2c2" />
<rect x="411.33" y="49.9" width="4.3" height="10.5" fill="#c2c2c2" />
<rect x="418.53" y="49.9" width="4.3" height="10.5" fill="#c2c2c2" />
<rect x="425.74" y="34.15" width="4.3" height="26.25" fill="#c2c2c2" />
<rect x="432.95" y="55.15" width="4.3" height="5.25" fill="#c2c2c2" />
<rect x="440.16" y="44.65" width="4.3" height="15.75" fill="#c2c2c2" />
<rect x="447.36" y="44.65" width="4.3" height="15.75" fill="#c2c2c2" />
<line x1="380.6" y1="33.2" x2="380.6" y2="61" stroke="#1e1e1e" stroke-width="1.2" />
<line x1="378" y1="60.4" x2="481.9" y2="60.4" stroke="#1e1e1e" stroke-width="1.2" />
<line x1="378" y1="60.4" x2="380.7" y2="60.4" stroke="#1e1e1e" stroke-width="1.0" />
<text x="375.1" y="60.4" font-size="5.2" text-anchor="middle" fill="#484848" stroke="#484848" stroke-width="0.15" transform="rotate(-90 375.1 60.4)" >0</text>
<line x1="378" y1="49.9" x2="380.7" y2="49.9" stroke="#1e1e1e" stroke-width="1.0" />
<text x="375.1" y="49.9" font-size="5.2" text-anchor="middle" fill="#484848" stroke="#484848" stroke-width="0.15" transform="rotate(-90 375.1 49.9)" >2</text>
<line x1="378" y1="39.4" x2="380.7" y2="39.4" stroke="#1e1e1e" stroke-width="1.0" />
<text x="375.1" y="39.4" font-size="5.2" text-anchor="middle" fill="#484848" stroke="#484848" stroke-width="0.15" transform="rotate(-90 375.1 39.4)" >4</text>
<text x="367" y="46.8" font-size="6.5" text-anchor="middle" fill="#484848" stroke="#484848" stroke-width="0.15" textLength="22" lengthAdjust="spacingAndGlyphs" transform="rotate(-90 367 46.8)" ># MiHAs</text>
<rect x="485.8" y="75.43" width="24.96" height="5" fill="#c2c2c2" />
<rect x="485.8" y="84.45" width="7.8" height="5" fill="#c2c2c2" />
<rect x="485.8" y="93.47" width="4.68" height="5" fill="#c2c2c2" />
<rect x="485.8" y="120.53" width="3.12" height="5" fill="#c2c2c2" />
<line x1="485.5" y1="64.1" x2="485.5" y2="128.4" stroke="#1e1e1e" stroke-width="1.2" />
<line x1="484.9" y1="127.9" x2="512.9" y2="127.9" stroke="#1e1e1e" stroke-width="1.2" />
<line x1="485.8" y1="127.9" x2="485.8" y2="130.2" stroke="#1e1e1e" stroke-width="1.0" />
<text x="487.9" y="134.3" font-size="6" text-anchor="end" fill="#484848" stroke="#484848" stroke-width="0.15" transform="rotate(-90 487.9 134.3)" >0</text>
<line x1="493.6" y1="127.9" x2="493.6" y2="130.2" stroke="#1e1e1e" stroke-width="1.0" />
<text x="495.7" y="134.3" font-size="6" text-anchor="end" fill="#484848" stroke="#484848" stroke-width="0.15" transform="rotate(-90 495.7 134.3)" >5</text>
<line x1="501.4" y1="127.9" x2="501.4" y2="130.2" stroke="#1e1e1e" stroke-width="1.0" />
<text x="503.5" y="134.3" font-size="6" text-anchor="end" fill="#484848" stroke="#484848" stroke-width="0.15" transform="rotate(-90 503.5 134.3)" >10</text>
<line x1="509.2" y1="127.9" x2="509.2" y2="130.2" stroke="#1e1e1e" stroke-width="1.0" />
<text x="511.3" y="134.3" font-size="6" text-anchor="end" fill="#484848" stroke="#484848" stroke-width="0.15" transform="rotate(-90 511.3 134.3)" >15</text>
<text x="488.6" y="149.5" font-size="7.6" fill="#484848" stroke="#484848" stroke-width="0.15" textLength="21.7" lengthAdjust="spacingAndGlyphs" ># MiHAs</text>
<text x="415.8" y="16.8" font-size="8.8" fill="#484848" stroke="#484848" stroke-width="0.15" textLength="31.5" lengthAdjust="spacingAndGlyphs" >A*02:01</text>
<text x="486" y="23.8" font-size="4.9" fill="#555" textLength="20.5" lengthAdjust="spacingAndGlyphs" ># MiHAs</text>
<defs><linearGradient id="g381" x1="0" y1="1" x2="0" y2="0"><stop offset="0" stop-color="rgb(62,36,138)"/><stop offset="0.5" stop-color="rgb(250,248,250)"/><stop offset="0.75" stop-color="rgb(240,126,98)"/><stop offset="1" stop-color="rgb(228,18,16)"/></linearGradient></defs>
<rect x="485.8" y="29.8" width="6" height="28.8" fill="url(#g381)" />
<text x="494.3" y="34.1" font-size="5.3" fill="#484848" stroke="#484848" stroke-width="0.15" >4</text>
<text x="494.3" y="40.3" font-size="5.3" fill="#484848" stroke="#484848" stroke-width="0.15" >3</text>
<text x="494.3" y="46.5" font-size="5.3" fill="#484848" stroke="#484848" stroke-width="0.15" >2</text>
<text x="494.3" y="52.7" font-size="5.3" fill="#484848" stroke="#484848" stroke-width="0.15" >1</text>
<text x="494.3" y="58.9" font-size="5.3" fill="#484848" stroke="#484848" stroke-width="0.15" >0</text>
<rect x="48.3" y="251.23" width="2.5" height="20.07" fill="#cfd0d8" />
<rect x="50.9" y="249.68" width="2.9" height="21.62" fill="#174a82" />
<rect x="54.73" y="261.26" width="2.5" height="10.04" fill="#cfd0d8" />
<rect x="57.33" y="252.39" width="2.9" height="18.91" fill="#174a82" />
<rect x="61.16" y="256.63" width="2.5" height="14.67" fill="#cfd0d8" />
<rect x="63.76" y="249.68" width="2.9" height="21.62" fill="#174a82" />
<rect x="67.59" y="250.84" width="2.5" height="20.46" fill="#cfd0d8" />
<rect x="70.19" y="252.39" width="2.9" height="18.91" fill="#174a82" />
<rect x="74.02" y="262.04" width="2.5" height="9.26" fill="#cfd0d8" />
<rect x="76.62" y="260.88" width="2.9" height="10.42" fill="#174a82" />
<rect x="80.45" y="253.93" width="2.5" height="17.37" fill="#cfd0d8" />
<rect x="83.05" y="260.88" width="2.9" height="10.42" fill="#174a82" />
<rect x="86.88" y="253.93" width="2.5" height="17.37" fill="#cfd0d8" />
<rect x="89.48" y="249.68" width="2.9" height="21.62" fill="#174a82" />
<rect x="93.31" y="250.84" width="2.5" height="20.46" fill="#cfd0d8" />
<rect x="95.91" y="255.09" width="2.9" height="16.21" fill="#174a82" />
<rect x="99.74" y="252" width="2.5" height="19.3" fill="#cfd0d8" />
<rect x="102.34" y="249.68" width="2.9" height="21.62" fill="#174a82" />
<rect x="106.17" y="245.44" width="2.5" height="25.86" fill="#cfd0d8" />
<rect x="108.77" y="252.39" width="2.9" height="18.91" fill="#174a82" />
<rect x="112.6" y="253.16" width="2.5" height="18.14" fill="#cfd0d8" />
<rect x="115.2" y="263.58" width="2.9" height="7.72" fill="#174a82" />
<rect x="119.03" y="256.25" width="2.5" height="15.05" fill="#cfd0d8" />
<rect x="125.46" y="257.02" width="2.5" height="14.28" fill="#cfd0d8" />
<rect x="128.06" y="260.88" width="2.9" height="10.42" fill="#174a82" />
<rect x="131.89" y="250.84" width="2.5" height="20.46" fill="#cfd0d8" />
<rect x="134.49" y="249.68" width="2.9" height="21.62" fill="#174a82" />
<rect x="138.32" y="233.86" width="2.5" height="37.44" fill="#cfd0d8" />
<rect x="140.92" y="186.77" width="2.9" height="84.53" fill="#174a82" />
<rect x="144.75" y="239.65" width="2.5" height="31.65" fill="#cfd0d8" />
<rect x="147.35" y="257.79" width="2.9" height="13.51" fill="#174a82" />
<rect x="151.18" y="244.28" width="2.5" height="27.02" fill="#cfd0d8" />
<rect x="153.78" y="255.09" width="2.9" height="16.21" fill="#174a82" />
<rect x="157.61" y="241.96" width="2.5" height="29.34" fill="#cfd0d8" />
<rect x="160.21" y="246.6" width="2.9" height="24.7" fill="#174a82" />
<rect x="164.04" y="263.58" width="2.5" height="7.72" fill="#cfd0d8" />
<rect x="166.64" y="263.58" width="2.9" height="7.72" fill="#174a82" />
<rect x="170.47" y="264.74" width="2.5" height="6.56" fill="#cfd0d8" />
<rect x="173.07" y="252.39" width="2.9" height="18.91" fill="#174a82" />
<line x1="46.5" y1="190.8" x2="46.5" y2="271.9" stroke="#1e1e1e" stroke-width="1.2" />
<line x1="43.7" y1="271.3" x2="175.6" y2="271.3" stroke="#1e1e1e" stroke-width="1.2" />
<line x1="43.7" y1="271.3" x2="46.5" y2="271.3" stroke="#1e1e1e" stroke-width="1.0" />
<text x="40.6" y="273.5" font-size="6.4" text-anchor="end" fill="#484848" stroke="#484848" stroke-width="0.15" textLength="12.3" lengthAdjust="spacingAndGlyphs" >0.00</text>
<line x1="43.7" y1="252" x2="46.5" y2="252" stroke="#1e1e1e" stroke-width="1.0" />
<text x="40.6" y="254.2" font-size="6.4" text-anchor="end" fill="#484848" stroke="#484848" stroke-width="0.15" textLength="12.3" lengthAdjust="spacingAndGlyphs" >0.05</text>
<line x1="43.7" y1="232.7" x2="46.5" y2="232.7" stroke="#1e1e1e" stroke-width="1.0" />
<text x="40.6" y="234.9" font-size="6.4" text-anchor="end" fill="#484848" stroke="#484848" stroke-width="0.15" textLength="12.3" lengthAdjust="spacingAndGlyphs" >0.10</text>
<line x1="43.7" y1="213.4" x2="46.5" y2="213.4" stroke="#1e1e1e" stroke-width="1.0" />
<text x="40.6" y="215.6" font-size="6.4" text-anchor="end" fill="#484848" stroke="#484848" stroke-width="0.15" textLength="12.3" lengthAdjust="spacingAndGlyphs" >0.15</text>
<line x1="43.7" y1="194.1" x2="46.5" y2="194.1" stroke="#1e1e1e" stroke-width="1.0" />
<text x="40.6" y="196.3" font-size="6.4" text-anchor="end" fill="#484848" stroke="#484848" stroke-width="0.15" textLength="12.3" lengthAdjust="spacingAndGlyphs" >0.20</text>
<line x1="45.1" y1="261.65" x2="46.5" y2="261.65" stroke="#1e1e1e" stroke-width="0.7" />
<line x1="45.1" y1="242.35" x2="46.5" y2="242.35" stroke="#1e1e1e" stroke-width="0.7" />
<line x1="45.1" y1="223.05" x2="46.5" y2="223.05" stroke="#1e1e1e" stroke-width="0.7" />
<line x1="45.1" y1="203.75" x2="46.5" y2="203.75" stroke="#1e1e1e" stroke-width="0.7" />
<line x1="50.9" y1="271.3" x2="50.9" y2="274" stroke="#1e1e1e" stroke-width="1.0" />
<text x="50.9" y="283.7" font-size="6.5" text-anchor="middle" fill="#484848" stroke="#484848" stroke-width="0.15" >A</text>
<line x1="57.33" y1="271.3" x2="57.33" y2="274" stroke="#1e1e1e" stroke-width="1.0" />
<text x="57.33" y="283.7" font-size="6.5" text-anchor="middle" fill="#484848" stroke="#484848" stroke-width="0.15" >C</text>
<line x1="63.76" y1="271.3" x2="63.76" y2="274" stroke="#1e1e1e" stroke-width="1.0" />
<text x="63.76" y="283.7" font-size="6.5" text-anchor="middle" fill="#484848" stroke="#484848" stroke-width="0.15" >D</text>
<line x1="70.19" y1="271.3" x2="70.19" y2="274" stroke="#1e1e1e" stroke-width="1.0" />
<text x="70.19" y="283.7" font-size="6.5" text-anchor="middle" fill="#484848" stroke="#484848" stroke-width="0.15" >E</text>
<line x1="76.62" y1="271.3" x2="76.62" y2="274" stroke="#1e1e1e" stroke-width="1.0" />
<text x="76.62" y="283.7" font-size="6.5" text-anchor="middle" fill="#484848" stroke="#484848" stroke-width="0.15" >F</text>
<line x1="83.05" y1="271.3" x2="83.05" y2="274" stroke="#1e1e1e" stroke-width="1.0" />
<text x="83.05" y="283.7" font-size="6.5" text-anchor="middle" fill="#484848" stroke="#484848" stroke-width="0.15" >G</text>
<line x1="89.48" y1="271.3" x2="89.48" y2="274" stroke="#1e1e1e" stroke-width="1.0" />
<text x="89.48" y="283.7" font-size="6.5" text-anchor="middle" fill="#484848" stroke="#484848" stroke-width="0.15" >H</text>
<line x1="95.91" y1="271.3" x2="95.91" y2="274" stroke="#1e1e1e" stroke-width="1.0" />
<text x="95.91" y="283.7" font-size="6.5" text-anchor="middle" fill="#484848" stroke="#484848" stroke-width="0.15" >I</text>
<line x1="102.34" y1="271.3" x2="102.34" y2="274" stroke="#1e1e1e" stroke-width="1.0" />
<text x="102.34" y="283.7" font-size="6.5" text-anchor="middle" fill="#484848" stroke="#484848" stroke-width="0.15" >K</text>
<line x1="108.77" y1="271.3" x2="108.77" y2="274" stroke="#1e1e1e" stroke-width="1.0" />
<text x="108.77" y="283.7" font-size="6.5" text-anchor="middle" fill="#484848" stroke="#484848" stroke-width="0.15" >L</text>
<line x1="115.2" y1="271.3" x2="115.2" y2="274" stroke="#1e1e1e" stroke-width="1.0" />
<text x="115.2" y="283.7" font-size="6.5" text-anchor="middle" fill="#484848" stroke="#484848" stroke-width="0.15" >M</text>
<line x1="121.63" y1="271.3" x2="121.63" y2="274" stroke="#1e1e1e" stroke-width="1.0" />
<text x="121.63" y="283.7" font-size="6.5" text-anchor="middle" fill="#484848" stroke="#484848" stroke-width="0.15" >N</text>
<line x1="128.06" y1="271.3" x2="128.06" y2="274" stroke="#1e1e1e" stroke-width="1.0" />
<text x="128.06" y="283.7" font-size="6.5" text-anchor="middle" fill="#484848" stroke="#484848" stroke-width="0.15" >P</text>
<line x1="134.49" y1="271.3" x2="134.49" y2="274" stroke="#1e1e1e" stroke-width="1.0" />
<text x="134.49" y="283.7" font-size="6.5" text-anchor="middle" fill="#484848" stroke="#484848" stroke-width="0.15" >Q</text>
<line x1="140.92" y1="271.3" x2="140.92" y2="274" stroke="#1e1e1e" stroke-width="1.0" />
<text x="140.92" y="283.7" font-size="6.5" text-anchor="middle" fill="#484848" stroke="#484848" stroke-width="0.15" >R</text>
<line x1="147.35" y1="271.3" x2="147.35" y2="274" stroke="#1e1e1e" stroke-width="1.0" />
<text x="147.35" y="283.7" font-size="6.5" text-anchor="middle" fill="#484848" stroke="#484848" stroke-width="0.15" >S</text>
<line x1="153.78" y1="271.3" x2="153.78" y2="274" stroke="#1e1e1e" stroke-width="1.0" />
<text x="153.78" y="283.7" font-size="6.5" text-anchor="middle" fill="#484848" stroke="#484848" stroke-width="0.15" >T</text>
<line x1="160.21" y1="271.3" x2="160.21" y2="274" stroke="#1e1e1e" stroke-width="1.0" />
<text x="160.21" y="283.7" font-size="6.5" text-anchor="middle" fill="#484848" stroke="#484848" stroke-width="0.15" >V</text>
<line x1="166.64" y1="271.3" x2="166.64" y2="274" stroke="#1e1e1e" stroke-width="1.0" />
<text x="166.64" y="283.7" font-size="6.5" text-anchor="middle" fill="#484848" stroke="#484848" stroke-width="0.15" >W</text>
<line x1="173.07" y1="271.3" x2="173.07" y2="274" stroke="#1e1e1e" stroke-width="1.0" />
<text x="173.07" y="283.7" font-size="6.5" text-anchor="middle" fill="#484848" stroke="#484848" stroke-width="0.15" >Y</text>
<text x="95.2" y="177.6" font-size="8.8" fill="#484848" stroke="#484848" stroke-width="0.15" textLength="33" lengthAdjust="spacingAndGlyphs" >All HLAs</text>
<text x="22.8" y="228.6" font-size="8" text-anchor="middle" fill="#484848" stroke="#484848" stroke-width="0.15" textLength="28" lengthAdjust="spacingAndGlyphs" transform="rotate(-90 22.8 228.6)" >Frequency</text>
<text x="75.7" y="295.6" font-size="8.4" fill="#484848" stroke="#484848" stroke-width="0.15" textLength="72.3" lengthAdjust="spacingAndGlyphs" >Polymorphic amino acid</text>
<rect x="49.8" y="194.3" width="6.2" height="5.6" fill="#cfd0d8" />
<rect x="49.8" y="204.2" width="6.2" height="5.6" fill="#174a82" />
<text x="59.6" y="199" font-size="6.5" fill="#484848" stroke="#484848" stroke-width="0.15" textLength="28.5" lengthAdjust="spacingAndGlyphs" >Proteome</text>
<text x="59.6" y="209.3" font-size="6.5" fill="#484848" stroke="#484848" stroke-width="0.15" textLength="19" lengthAdjust="spacingAndGlyphs" >MiHAs</text>
<line x1="138.52" y1="188" x2="143.92" y2="188" stroke="#222" stroke-width="0.9" />
<text x="142.02" y="188.6" font-size="6.5" text-anchor="middle" fill="#222" stroke="#222" stroke-width="0.15" >*</text>
<rect x="215.1" y="228.79" width="2.9" height="42.61" fill="#3ca0d8" />
<rect x="218" y="259.1" width="2.9" height="12.3" fill="#174a82" />
<rect x="221.55" y="269.11" width="2.9" height="2.29" fill="#3ca0d8" />
<rect x="224.45" y="265.68" width="2.9" height="5.72" fill="#174a82" />
<rect x="228" y="268.54" width="2.9" height="2.86" fill="#3ca0d8" />
<rect x="230.9" y="265.68" width="2.9" height="5.72" fill="#174a82" />
<rect x="234.45" y="260.25" width="2.9" height="11.15" fill="#3ca0d8" />
<rect x="237.35" y="265.68" width="2.9" height="5.72" fill="#174a82" />
<rect x="243.8" y="265.68" width="2.9" height="5.72" fill="#174a82" />
<rect x="247.35" y="264.25" width="2.9" height="7.15" fill="#3ca0d8" />
<rect x="250.25" y="253.1" width="2.9" height="18.3" fill="#174a82" />
<rect x="253.8" y="268.54" width="2.9" height="2.86" fill="#3ca0d8" />
<rect x="256.7" y="259.1" width="2.9" height="12.3" fill="#174a82" />
<rect x="260.25" y="258.24" width="2.9" height="13.16" fill="#3ca0d8" />
<rect x="263.15" y="246.8" width="2.9" height="24.6" fill="#174a82" />
<rect x="266.7" y="265.97" width="2.9" height="5.43" fill="#3ca0d8" />
<rect x="269.6" y="246.8" width="2.9" height="24.6" fill="#174a82" />
<rect x="273.15" y="234.51" width="2.9" height="36.89" fill="#3ca0d8" />
<rect x="276.05" y="247.09" width="2.9" height="24.31" fill="#174a82" />
<rect x="279.6" y="260.25" width="2.9" height="11.15" fill="#3ca0d8" />
<rect x="286.05" y="267.97" width="2.9" height="3.43" fill="#3ca0d8" />
<rect x="292.5" y="245.95" width="2.9" height="25.45" fill="#3ca0d8" />
<rect x="295.4" y="253.38" width="2.9" height="18.02" fill="#174a82" />
<rect x="298.95" y="265.11" width="2.9" height="6.29" fill="#3ca0d8" />
<rect x="301.85" y="265.97" width="2.9" height="5.43" fill="#174a82" />
<rect x="305.4" y="241.66" width="2.9" height="29.74" fill="#3ca0d8" />
<rect x="308.3" y="190.46" width="2.9" height="80.94" fill="#174a82" />
<rect x="311.85" y="241.66" width="2.9" height="29.74" fill="#3ca0d8" />
<rect x="314.75" y="265.97" width="2.9" height="5.43" fill="#174a82" />
<rect x="318.3" y="247.09" width="2.9" height="24.31" fill="#3ca0d8" />
<rect x="321.2" y="259.1" width="2.9" height="12.3" fill="#174a82" />
<rect x="324.75" y="249.38" width="2.9" height="22.02" fill="#3ca0d8" />
<rect x="327.65" y="253.38" width="2.9" height="18.02" fill="#174a82" />
<rect x="334.1" y="265.97" width="2.9" height="5.43" fill="#174a82" />
<rect x="340.55" y="265.97" width="2.9" height="5.43" fill="#174a82" />
<line x1="213.5" y1="196.6" x2="213.5" y2="272" stroke="#1e1e1e" stroke-width="1.2" />
<line x1="210.7" y1="271.4" x2="343.4" y2="271.4" stroke="#1e1e1e" stroke-width="1.2" />
<line x1="210.7" y1="271.4" x2="213.5" y2="271.4" stroke="#1e1e1e" stroke-width="1.0" />
<text x="208.3" y="273.6" font-size="6.4" text-anchor="end" fill="#484848" stroke="#484848" stroke-width="0.15" textLength="8.8" lengthAdjust="spacingAndGlyphs" >0.0</text>
<line x1="210.7" y1="242.8" x2="213.5" y2="242.8" stroke="#1e1e1e" stroke-width="1.0" />
<text x="208.3" y="245" font-size="6.4" text-anchor="end" fill="#484848" stroke="#484848" stroke-width="0.15" textLength="8.8" lengthAdjust="spacingAndGlyphs" >0.1</text>
<line x1="210.7" y1="214.2" x2="213.5" y2="214.2" stroke="#1e1e1e" stroke-width="1.0" />
<text x="208.3" y="216.4" font-size="6.4" text-anchor="end" fill="#484848" stroke="#484848" stroke-width="0.15" textLength="8.8" lengthAdjust="spacingAndGlyphs" >0.2</text>
<line x1="212.1" y1="257.1" x2="213.5" y2="257.1" stroke="#1e1e1e" stroke-width="0.7" />
<line x1="212.1" y1="228.5" x2="213.5" y2="228.5" stroke="#1e1e1e" stroke-width="0.7" />
<line x1="212.1" y1="199.9" x2="213.5" y2="199.9" stroke="#1e1e1e" stroke-width="0.7" />
<line x1="218" y1="271.4" x2="218" y2="274.1" stroke="#1e1e1e" stroke-width="1.0" />
<text x="218" y="283.7" font-size="6.5" text-anchor="middle" fill="#484848" stroke="#484848" stroke-width="0.15" >A</text>
<line x1="224.45" y1="271.4" x2="224.45" y2="274.1" stroke="#1e1e1e" stroke-width="1.0" />
<text x="224.45" y="283.7" font-size="6.5" text-anchor="middle" fill="#484848" stroke="#484848" stroke-width="0.15" >C</text>
<line x1="230.9" y1="271.4" x2="230.9" y2="274.1" stroke="#1e1e1e" stroke-width="1.0" />
<text x="230.9" y="283.7" font-size="6.5" text-anchor="middle" fill="#484848" stroke="#484848" stroke-width="0.15" >D</text>
<line x1="237.35" y1="271.4" x2="237.35" y2="274.1" stroke="#1e1e1e" stroke-width="1.0" />
<text x="237.35" y="283.7" font-size="6.5" text-anchor="middle" fill="#484848" stroke="#484848" stroke-width="0.15" >E</text>
<line x1="243.8" y1="271.4" x2="243.8" y2="274.1" stroke="#1e1e1e" stroke-width="1.0" />
<text x="243.8" y="283.7" font-size="6.5" text-anchor="middle" fill="#484848" stroke="#484848" stroke-width="0.15" >F</text>
<line x1="250.25" y1="271.4" x2="250.25" y2="274.1" stroke="#1e1e1e" stroke-width="1.0" />
<text x="250.25" y="283.7" font-size="6.5" text-anchor="middle" fill="#484848" stroke="#484848" stroke-width="0.15" >G</text>
<line x1="256.7" y1="271.4" x2="256.7" y2="274.1" stroke="#1e1e1e" stroke-width="1.0" />
<text x="256.7" y="283.7" font-size="6.5" text-anchor="middle" fill="#484848" stroke="#484848" stroke-width="0.15" >H</text>
<line x1="263.15" y1="271.4" x2="263.15" y2="274.1" stroke="#1e1e1e" stroke-width="1.0" />
<text x="263.15" y="283.7" font-size="6.5" text-anchor="middle" fill="#484848" stroke="#484848" stroke-width="0.15" >I</text>
<line x1="269.6" y1="271.4" x2="269.6" y2="274.1" stroke="#1e1e1e" stroke-width="1.0" />
<text x="269.6" y="283.7" font-size="6.5" text-anchor="middle" fill="#484848" stroke="#484848" stroke-width="0.15" >K</text>
<line x1="276.05" y1="271.4" x2="276.05" y2="274.1" stroke="#1e1e1e" stroke-width="1.0" />
<text x="276.05" y="283.7" font-size="6.5" text-anchor="middle" fill="#484848" stroke="#484848" stroke-width="0.15" >L</text>
<line x1="282.5" y1="271.4" x2="282.5" y2="274.1" stroke="#1e1e1e" stroke-width="1.0" />
<text x="282.5" y="283.7" font-size="6.5" text-anchor="middle" fill="#484848" stroke="#484848" stroke-width="0.15" >M</text>
<line x1="288.95" y1="271.4" x2="288.95" y2="274.1" stroke="#1e1e1e" stroke-width="1.0" />
<text x="288.95" y="283.7" font-size="6.5" text-anchor="middle" fill="#484848" stroke="#484848" stroke-width="0.15" >N</text>
<line x1="295.4" y1="271.4" x2="295.4" y2="274.1" stroke="#1e1e1e" stroke-width="1.0" />
<text x="295.4" y="283.7" font-size="6.5" text-anchor="middle" fill="#484848" stroke="#484848" stroke-width="0.15" >P</text>
<line x1="301.85" y1="271.4" x2="301.85" y2="274.1" stroke="#1e1e1e" stroke-width="1.0" />
<text x="301.85" y="283.7" font-size="6.5" text-anchor="middle" fill="#484848" stroke="#484848" stroke-width="0.15" >Q</text>
<line x1="308.3" y1="271.4" x2="308.3" y2="274.1" stroke="#1e1e1e" stroke-width="1.0" />
<text x="308.3" y="283.7" font-size="6.5" text-anchor="middle" fill="#484848" stroke="#484848" stroke-width="0.15" >R</text>
<line x1="314.75" y1="271.4" x2="314.75" y2="274.1" stroke="#1e1e1e" stroke-width="1.0" />
<text x="314.75" y="283.7" font-size="6.5" text-anchor="middle" fill="#484848" stroke="#484848" stroke-width="0.15" >S</text>
<line x1="321.2" y1="271.4" x2="321.2" y2="274.1" stroke="#1e1e1e" stroke-width="1.0" />
<text x="321.2" y="283.7" font-size="6.5" text-anchor="middle" fill="#484848" stroke="#484848" stroke-width="0.15" >T</text>
<line x1="327.65" y1="271.4" x2="327.65" y2="274.1" stroke="#1e1e1e" stroke-width="1.0" />
<text x="327.65" y="283.7" font-size="6.5" text-anchor="middle" fill="#484848" stroke="#484848" stroke-width="0.15" >V</text>
<line x1="334.1" y1="271.4" x2="334.1" y2="274.1" stroke="#1e1e1e" stroke-width="1.0" />
<text x="334.1" y="283.7" font-size="6.5" text-anchor="middle" fill="#484848" stroke="#484848" stroke-width="0.15" >W</text>
<line x1="340.55" y1="271.4" x2="340.55" y2="274.1" stroke="#1e1e1e" stroke-width="1.0" />
<text x="340.55" y="283.7" font-size="6.5" text-anchor="middle" fill="#484848" stroke="#484848" stroke-width="0.15" >Y</text>
<text x="263.8" y="177.6" font-size="8.8" fill="#484848" stroke="#484848" stroke-width="0.15" textLength="30.4" lengthAdjust="spacingAndGlyphs" >B*07:02</text>
<text x="193.8" y="233.3" font-size="8" text-anchor="middle" fill="#484848" stroke="#484848" stroke-width="0.15" textLength="31.4" lengthAdjust="spacingAndGlyphs" transform="rotate(-90 193.8 233.3)" >Frequency</text>
<text x="242" y="295.6" font-size="8.4" fill="#484848" stroke="#484848" stroke-width="0.15" textLength="74" lengthAdjust="spacingAndGlyphs" >Polymorphic amino acid</text>
<rect x="217.2" y="200.2" width="6.2" height="5.8" fill="#3ca0d8" />
<rect x="217.2" y="210.6" width="6.2" height="5.8" fill="#174a82" />
<text x="226.8" y="204.8" font-size="6.5" fill="#484848" stroke="#484848" stroke-width="0.15" textLength="32.3" lengthAdjust="spacingAndGlyphs" >Peptidome</text>
<text x="226.8" y="215.5" font-size="6.5" fill="#484848" stroke="#484848" stroke-width="0.15" textLength="19.2" lengthAdjust="spacingAndGlyphs" >MiHAs</text>
<line x1="305.9" y1="188.1" x2="311.3" y2="188.1" stroke="#222" stroke-width="0.9" />
<text x="309.4" y="188.2" font-size="6.5" text-anchor="middle" fill="#222" stroke="#222" stroke-width="0.15" >*</text>
<rect x="381.9" y="237.27" width="2.9" height="34.03" fill="#3ca0d8" />
<rect x="384.8" y="261" width="2.9" height="10.3" fill="#174a82" />
<rect x="388.3" y="269.01" width="2.9" height="2.29" fill="#3ca0d8" />
<rect x="391.2" y="238.41" width="2.9" height="32.89" fill="#174a82" />
<rect x="394.7" y="263.58" width="2.9" height="7.72" fill="#3ca0d8" />
<rect x="397.6" y="249.28" width="2.9" height="22.02" fill="#174a82" />
<rect x="401.1" y="258.72" width="2.9" height="12.58" fill="#3ca0d8" />
<rect x="407.5" y="258.43" width="2.9" height="12.87" fill="#3ca0d8" />
<rect x="410.4" y="249.28" width="2.9" height="22.02" fill="#174a82" />
<rect x="413.9" y="268.44" width="2.9" height="2.86" fill="#3ca0d8" />
<rect x="416.8" y="261" width="2.9" height="10.3" fill="#174a82" />
<rect x="420.3" y="260.43" width="2.9" height="10.87" fill="#3ca0d8" />
<rect x="423.2" y="238.41" width="2.9" height="32.89" fill="#174a82" />
<rect x="426.7" y="242.7" width="2.9" height="28.6" fill="#3ca0d8" />
<rect x="429.6" y="261" width="2.9" height="10.3" fill="#174a82" />
<rect x="433.1" y="261.29" width="2.9" height="10.01" fill="#3ca0d8" />
<rect x="439.5" y="236.98" width="2.9" height="34.32" fill="#3ca0d8" />
<rect x="442.4" y="249.85" width="2.9" height="21.45" fill="#174a82" />
<rect x="445.9" y="261.58" width="2.9" height="9.72" fill="#3ca0d8" />
<rect x="452.3" y="264.72" width="2.9" height="6.58" fill="#3ca0d8" />
<rect x="458.7" y="268.73" width="2.9" height="2.57" fill="#3ca0d8" />
<rect x="461.6" y="261" width="2.9" height="10.3" fill="#174a82" />
<rect x="468" y="238.41" width="2.9" height="32.89" fill="#174a82" />
<rect x="471.5" y="251.28" width="2.9" height="20.02" fill="#3ca0d8" />
<rect x="474.4" y="261" width="2.9" height="10.3" fill="#174a82" />
<rect x="477.9" y="246.99" width="2.9" height="24.31" fill="#3ca0d8" />
<rect x="480.8" y="267.87" width="2.9" height="3.43" fill="#174a82" />
<rect x="484.3" y="248.42" width="2.9" height="22.88" fill="#3ca0d8" />
<rect x="487.2" y="261" width="2.9" height="10.3" fill="#174a82" />
<rect x="490.7" y="243.27" width="2.9" height="28.03" fill="#3ca0d8" />
<rect x="493.6" y="261" width="2.9" height="10.3" fill="#174a82" />
<rect x="500" y="261" width="2.9" height="10.3" fill="#174a82" />
<rect x="506.4" y="261" width="2.9" height="10.3" fill="#174a82" />
<line x1="381.3" y1="196" x2="381.3" y2="271.9" stroke="#1e1e1e" stroke-width="1.2" />
<line x1="378.5" y1="271.3" x2="508.4" y2="271.3" stroke="#1e1e1e" stroke-width="1.2" />
<line x1="378.5" y1="271.3" x2="381.3" y2="271.3" stroke="#1e1e1e" stroke-width="1.0" />
<text x="376.2" y="273.5" font-size="6.4" text-anchor="end" fill="#484848" stroke="#484848" stroke-width="0.15" textLength="8.8" lengthAdjust="spacingAndGlyphs" >0.0</text>
<line x1="378.5" y1="242.7" x2="381.3" y2="242.7" stroke="#1e1e1e" stroke-width="1.0" />
<text x="376.2" y="244.9" font-size="6.4" text-anchor="end" fill="#484848" stroke="#484848" stroke-width="0.15" textLength="8.8" lengthAdjust="spacingAndGlyphs" >0.1</text>
<line x1="378.5" y1="214.1" x2="381.3" y2="214.1" stroke="#1e1e1e" stroke-width="1.0" />
<text x="376.2" y="216.3" font-size="6.4" text-anchor="end" fill="#484848" stroke="#484848" stroke-width="0.15" textLength="8.8" lengthAdjust="spacingAndGlyphs" >0.2</text>
<line x1="379.9" y1="257" x2="381.3" y2="257" stroke="#1e1e1e" stroke-width="0.7" />
<line x1="379.9" y1="228.4" x2="381.3" y2="228.4" stroke="#1e1e1e" stroke-width="0.7" />
<line x1="379.9" y1="199.8" x2="381.3" y2="199.8" stroke="#1e1e1e" stroke-width="0.7" />
<line x1="384.8" y1="271.3" x2="384.8" y2="274" stroke="#1e1e1e" stroke-width="1.0" />
<text x="384.8" y="283.7" font-size="6.5" text-anchor="middle" fill="#484848" stroke="#484848" stroke-width="0.15" >A</text>
<line x1="391.2" y1="271.3" x2="391.2" y2="274" stroke="#1e1e1e" stroke-width="1.0" />
<text x="391.2" y="283.7" font-size="6.5" text-anchor="middle" fill="#484848" stroke="#484848" stroke-width="0.15" >C</text>
<line x1="397.6" y1="271.3" x2="397.6" y2="274" stroke="#1e1e1e" stroke-width="1.0" />
<text x="397.6" y="283.7" font-size="6.5" text-anchor="middle" fill="#484848" stroke="#484848" stroke-width="0.15" >D</text>
<line x1="404" y1="271.3" x2="404" y2="274" stroke="#1e1e1e" stroke-width="1.0" />
<text x="404" y="283.7" font-size="6.5" text-anchor="middle" fill="#484848" stroke="#484848" stroke-width="0.15" >E</text>
<line x1="410.4" y1="271.3" x2="410.4" y2="274" stroke="#1e1e1e" stroke-width="1.0" />
<text x="410.4" y="283.7" font-size="6.5" text-anchor="middle" fill="#484848" stroke="#484848" stroke-width="0.15" >F</text>
<line x1="416.8" y1="271.3" x2="416.8" y2="274" stroke="#1e1e1e" stroke-width="1.0" />
<text x="416.8" y="283.7" font-size="6.5" text-anchor="middle" fill="#484848" stroke="#484848" stroke-width="0.15" >G</text>
<line x1="423.2" y1="271.3" x2="423.2" y2="274" stroke="#1e1e1e" stroke-width="1.0" />
<text x="423.2" y="283.7" font-size="6.5" text-anchor="middle" fill="#484848" stroke="#484848" stroke-width="0.15" >H</text>
<line x1="429.6" y1="271.3" x2="429.6" y2="274" stroke="#1e1e1e" stroke-width="1.0" />
<text x="429.6" y="283.7" font-size="6.5" text-anchor="middle" fill="#484848" stroke="#484848" stroke-width="0.15" >I</text>
<line x1="436" y1="271.3" x2="436" y2="274" stroke="#1e1e1e" stroke-width="1.0" />
<text x="436" y="283.7" font-size="6.5" text-anchor="middle" fill="#484848" stroke="#484848" stroke-width="0.15" >K</text>
<line x1="442.4" y1="271.3" x2="442.4" y2="274" stroke="#1e1e1e" stroke-width="1.0" />
<text x="442.4" y="283.7" font-size="6.5" text-anchor="middle" fill="#484848" stroke="#484848" stroke-width="0.15" >L</text>
<line x1="448.8" y1="271.3" x2="448.8" y2="274" stroke="#1e1e1e" stroke-width="1.0" />
<text x="448.8" y="283.7" font-size="6.5" text-anchor="middle" fill="#484848" stroke="#484848" stroke-width="0.15" >M</text>
<line x1="455.2" y1="271.3" x2="455.2" y2="274" stroke="#1e1e1e" stroke-width="1.0" />
<text x="455.2" y="283.7" font-size="6.5" text-anchor="middle" fill="#484848" stroke="#484848" stroke-width="0.15" >N</text>
<line x1="461.6" y1="271.3" x2="461.6" y2="274" stroke="#1e1e1e" stroke-width="1.0" />
<text x="461.6" y="283.7" font-size="6.5" text-anchor="middle" fill="#484848" stroke="#484848" stroke-width="0.15" >P</text>
<line x1="468" y1="271.3" x2="468" y2="274" stroke="#1e1e1e" stroke-width="1.0" />
<text x="468" y="283.7" font-size="6.5" text-anchor="middle" fill="#484848" stroke="#484848" stroke-width="0.15" >Q</text>
<line x1="474.4" y1="271.3" x2="474.4" y2="274" stroke="#1e1e1e" stroke-width="1.0" />
<text x="474.4" y="283.7" font-size="6.5" text-anchor="middle" fill="#484848" stroke="#484848" stroke-width="0.15" >R</text>
<line x1="480.8" y1="271.3" x2="480.8" y2="274" stroke="#1e1e1e" stroke-width="1.0" />
<text x="480.8" y="283.7" font-size="6.5" text-anchor="middle" fill="#484848" stroke="#484848" stroke-width="0.15" >S</text>
<line x1="487.2" y1="271.3" x2="487.2" y2="274" stroke="#1e1e1e" stroke-width="1.0" />
<text x="487.2" y="283.7" font-size="6.5" text-anchor="middle" fill="#484848" stroke="#484848" stroke-width="0.15" >T</text>
<line x1="493.6" y1="271.3" x2="493.6" y2="274" stroke="#1e1e1e" stroke-width="1.0" />
<text x="493.6" y="283.7" font-size="6.5" text-anchor="middle" fill="#484848" stroke="#484848" stroke-width="0.15" >V</text>
<line x1="500" y1="271.3" x2="500" y2="274" stroke="#1e1e1e" stroke-width="1.0" />
<text x="500" y="283.7" font-size="6.5" text-anchor="middle" fill="#484848" stroke="#484848" stroke-width="0.15" >W</text>
<line x1="506.4" y1="271.3" x2="506.4" y2="274" stroke="#1e1e1e" stroke-width="1.0" />
<text x="506.4" y="283.7" font-size="6.5" text-anchor="middle" fill="#484848" stroke="#484848" stroke-width="0.15" >Y</text>
<text x="429.6" y="177.6" font-size="8.8" fill="#484848" stroke="#484848" stroke-width="0.15" textLength="30.6" lengthAdjust="spacingAndGlyphs" >A*02:01</text>
<text x="360.5" y="233.5" font-size="8" text-anchor="middle" fill="#484848" stroke="#484848" stroke-width="0.15" textLength="31" lengthAdjust="spacingAndGlyphs" transform="rotate(-90 360.5 233.5)" >Frequency</text>
<text x="408.9" y="295.6" font-size="8.4" fill="#484848" stroke="#484848" stroke-width="0.15" textLength="73.4" lengthAdjust="spacingAndGlyphs" >Polymorphic amino acid</text>
<rect x="384" y="199.1" width="5.8" height="6" fill="#3ca0d8" />
<rect x="384" y="209.6" width="5.8" height="6" fill="#174a82" />
<text x="393.8" y="204.2" font-size="6.5" fill="#484848" stroke="#484848" stroke-width="0.15" textLength="31.8" lengthAdjust="spacingAndGlyphs" >Peptidome</text>
<text x="393.8" y="214.6" font-size="6.5" fill="#484848" stroke="#484848" stroke-width="0.15" textLength="19.6" lengthAdjust="spacingAndGlyphs" >MiHAs</text>
<line x1="472" y1="-50" x2="477.4" y2="-50" stroke="#222" stroke-width="0.9" />
<text x="475.5" y="-50" font-size="6.5" text-anchor="middle" fill="#222" stroke="#222" stroke-width="0.15" >*</text>
<text x="7.2" y="16.7" font-size="11.8" fill="#111" stroke="#111" stroke-width="0.45" font-weight="bold" >A</text>
<text x="8.2" y="177.5" font-size="11.8" fill="#111" stroke="#111" stroke-width="0.45" font-weight="bold" >B</text>
</svg>
<div class="frame"></div>
</body></html>
